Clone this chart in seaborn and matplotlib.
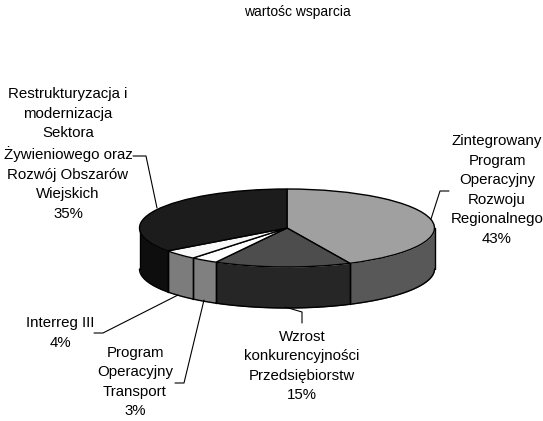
import matplotlib.pyplot as plt
from matplotlib.lines import Line2D
import seaborn as sns
import numpy as np

W, H = 543, 421

labels = ['Zintegrowany\nProgram\nOperacyjny\nRozwoju\nRegionalnego\n43%',
          'Wzrost\nkonkurencyjności\nPrzedsiębiorstw\n15%',
          'Program\nOperacyjny\nTransport\n3%',
          'Interreg III\n4%',
          'Restrukturyzacja i\nmodernizacja\nSektora\nŻywieniowego oraz\nRozwój Obszarów\nWiejskich\n35%']
values = [43, 15, 3, 4, 35]
top_colors = ['#a0a0a0', '#4d4d4d', '#ffffff', '#f8f8f8', '#1c1c1c']
wall_colors = ['#585858', '#262626', '#808080', '#7c7c7c', '#0e0e0e']

label_pos = [(497, 190), (302, 366), (135, 382), (60, 333), (68, 154)]
leaders = [[(449, 191), (440, 191), (431, 219)],
           [(285, 307), (302, 312), (302, 323)],
           [(175, 383), (184, 383), (204, 300)],
           [(94, 333), (103, 333), (178, 295)],
           [(133, 156), (146, 156), (157, 208)]]

# pie geometry in pixels of the image
cx, cy, rx, ry, depth = 287, 228, 147.5, 39, 41

sns.set_theme(style='white')
plt.rcParams['font.family'] = ['Liberation Sans', 'DejaVu Sans']

fig = plt.figure(figsize=(W / 100, H / 100), dpi=100)
ax = fig.add_axes([0, 0, 1, 1])

ax.pie(values, colors=top_colors, startangle=90, counterclock=False, radius=1,
       wedgeprops={'edgecolor': 'black', 'linewidth': 1, 'zorder': 3})
ax.set_aspect('auto')
ax.set_xlim(-cx / rx, (W - cx) / rx)
ax.set_ylim(-(H - cy) / ry, cy / ry)
ax.axis('off')

# side wall of each slice, only the part on the front of the pie
edges = np.cumsum([0] + values) / sum(values) * 360
d = depth / ry
for i in range(len(values)):
    a0, a1 = max(edges[i], 90), min(edges[i + 1], 270)
    if a1 <= a0:
        continue
    t = np.radians(np.linspace(a0, a1, 60))
    x = np.sin(t)
    y = np.cos(t)
    ax.fill_between(x, y, y - d, color=wall_colors[i], linewidth=0, zorder=1)
    ax.plot(x, y - d, color='black', lw=1, zorder=2)
    for k in (0, -1):
        ax.plot([x[k], x[k]], [y[k], y[k] - d], color='black', lw=1, zorder=2)

for lab, pos in zip(labels, label_pos):
    fig.text(pos[0] / W, 1 - pos[1] / H, lab, ha='center', va='center',
             fontsize=10.8, color='black', linespacing=1.5)

for pts in leaders:
    xs = [p[0] / W for p in pts]
    ys = [1 - p[1] / H for p in pts]
    fig.add_artist(Line2D(xs, ys, color='black', lw=0.8))

fig.text(297 / W, 1 - 12 / H, 'wartośc wsparcia', ha='center', va='center',
         fontsize=10, color='black')

fig.savefig('out.png', dpi=100)
